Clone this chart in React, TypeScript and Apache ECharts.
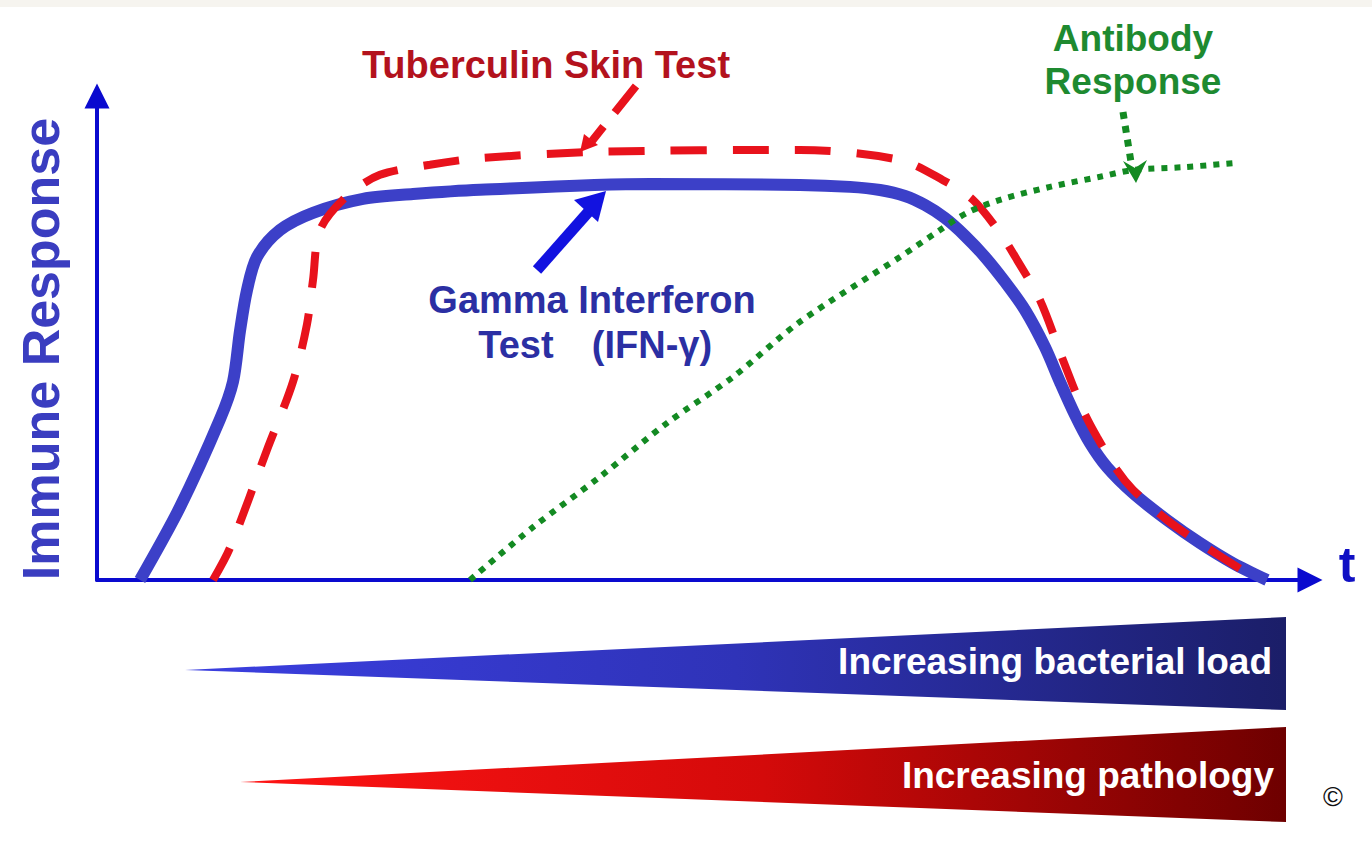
import React, { useEffect, useRef } from "react";
import * as echarts from "echarts";

// Time (arbitrary units) and immune response (% of axis height)
const ifnTime = [4.3, 8.3, 12.3, 13.6, 14.3, 15, 16, 18.3, 21.6, 26.6, 31.6, 38.3, 55.3, 70.3, 75.3, 78.3, 80.8, 82.8, 84.8, 86.8, 88.8, 90.8, 92.8, 94.8, 96.3, 97.8, 99.3, 101, 103.6, 107, 110.3, 113.6, 117];
const ifnResponse = [0, 15.2, 33.5, 41.3, 51.9, 60.4, 67.3, 72.9, 76.5, 79.4, 80.4, 81.3, 82.5, 82.3, 81.9, 81.25, 80, 78.1, 75.4, 71.7, 67.3, 62.1, 56.25, 48.5, 41.25, 34.4, 28.5, 23.5, 18.1, 12.5, 7.7, 3.5, 0];

const tstTime = [11.6, 13.3, 17, 19.6, 21, 21.6, 22.3, 25, 28.3, 33.3, 38.3, 50.3, 70.3, 80.3, 84.6, 87.6, 90.3, 92, 94.3, 96.6, 98.6, 100, 102, 103.6, 107, 110.3, 115.3];
const tstResponse = [0, 6.7, 27.1, 41.3, 53.3, 62.5, 72.9, 80, 84.4, 86.5, 87.9, 89.2, 89.6, 87.5, 83.3, 79.2, 72.3, 66.7, 58.3, 45.8, 35.4, 29.8, 22.9, 18.8, 12.5, 7.7, 1];

const abTime = [37.3, 43.6, 50.3, 57, 63.6, 70.3, 80.3, 84.3, 87, 90.3, 95.3, 100.3, 103.6, 108.6, 114];
const abResponse = [0, 11, 21.5, 32.7, 42.3, 53.8, 67.3, 72.9, 76.5, 79.2, 81.9, 84, 85.4, 86, 86.9];

const seriesNames = ["Gamma Interferon Test (IFN-γ)", "Tuberculin Skin Test", "Antibody Response"];
const yAxisTitle = "Immune Response";
const xAxisTitle = "t";
const bandLabels = ["Increasing bacterial load", "Increasing pathology"];

const pairs = (xs: number[], ys: number[]) => xs.map((x, i) => [x, ys[i]]);

const FONT = "'Liberation Sans', Arial, Helvetica, sans-serif";

export default function App() {
  const ref = useRef<HTMLDivElement>(null);
  useEffect(() => {
    document.body.style.margin = "0";
    const chart = echarts.init(ref.current!, null, { renderer: "svg" });
    const txt = (x: number, y: number, text: string, size: number, fill: string, align = "center", extra: any = {}, weight = "bold") => ({
      type: "text",
      x,
      y,
      z: 20,
      ...extra,
      style: { text, fontSize: size, fontWeight: weight, fontFamily: FONT, fill, align, verticalAlign: "middle" },
    });
    chart.setOption({
      animation: false,
      backgroundColor: "#ffffff",
      grid: { left: 97, top: 96, right: 62, bottom: 262 },
      xAxis: {
        type: "value",
        min: 0,
        max: 121.3,
        axisLine: { show: true, symbol: ["none", "triangle"], symbolSize: [25, 25], lineStyle: { color: "#0a0acf", width: 4 } },
        axisTick: { show: false },
        axisLabel: { show: false },
        splitLine: { show: false },
      },
      yAxis: {
        type: "value",
        min: 0,
        max: 100.83,
        axisLine: { show: true, symbol: ["none", "triangle"], symbolSize: [25, 25], lineStyle: { color: "#0a0acf", width: 4 } },
        axisTick: { show: false },
        axisLabel: { show: false },
        splitLine: { show: false },
      },
      series: [
        {
          name: seriesNames[0],
          type: "line",
          data: pairs(ifnTime, ifnResponse),
          smooth: 0.3,
          symbol: "none",
          clip: false,
          z: 3,
          lineStyle: { color: "#3c40c8", width: 12 },
        },
        {
          name: seriesNames[1],
          type: "line",
          data: pairs(tstTime, tstResponse),
          smooth: 0.3,
          symbol: "none",
          clip: false,
          z: 4,
          lineStyle: { color: "#e8121c", width: 8, type: [36, 26] },
        },
        {
          name: seriesNames[2],
          type: "line",
          data: pairs(abTime, abResponse),
          smooth: 0.3,
          symbol: "none",
          clip: false,
          z: 5,
          lineStyle: { color: "#138a22", width: 6, type: [6, 7] },
        },
      ],
      graphic: [
        { type: "rect", shape: { x: 0, y: 0, width: 1372, height: 7 }, style: { fill: "#f6f4ef" } },
        {
          type: "polygon",
          shape: { points: [[185, 670], [1286, 617], [1286, 710]] },
          style: {
            fill: new echarts.graphic.LinearGradient(0, 0, 1, 0, [
              { offset: 0, color: "#3b3fe0" },
              { offset: 0.5, color: "#2f33b8" },
              { offset: 1, color: "#1b1e68" },
            ]),
          },
        },
        {
          type: "polygon",
          shape: { points: [[240, 782], [1286, 727], [1286, 822]] },
          style: {
            fill: new echarts.graphic.LinearGradient(0, 0, 1, 0, [
              { offset: 0, color: "#ff1414" },
              { offset: 0.5, color: "#d40a0a" },
              { offset: 1, color: "#6e0000" },
            ]),
          },
        },
        txt(1272, 661, bandLabels[0], 37, "#ffffff", "right"),
        txt(1274, 775, bandLabels[1], 37, "#ffffff", "right"),
        txt(1333, 797, "©", 27, "#111111", "center", {}, "normal"),
        txt(41, 349, yAxisTitle, 52, "#3a3dc0", "center", { rotation: Math.PI / 2 }),
        txt(1347, 565, xAxisTitle, 50, "#1010c4"),
        txt(546, 65, "Tuberculin Skin Test", 38, "#b3121d"),
        txt(1133, 38, "Antibody", 37, "#1e8a30"),
        txt(1133, 81, "Response", 37, "#1e8a30"),
        txt(592, 300, "Gamma Interferon", 38, "#2b2fa3"),
        txt(516, 345, "Test", 38, "#2b2fa3"),
        txt(652, 345, "(IFN-γ)", 38, "#2b2fa3"),
        // Tuberculin pointer
        {
          type: "line",
          z: 15,
          shape: { x1: 636, y1: 86, x2: 592, y2: 141 },
          style: { stroke: "#e8121c", lineWidth: 8, lineDash: [34, 18] },
        },
        {
          type: "polygon",
          z: 15,
          shape: { points: [[580, 152], [584, 134], [598, 145]] },
          style: { fill: "#e8121c" },
        },
        // IFN pointer
        {
          type: "line",
          z: 15,
          shape: { x1: 537, y1: 270, x2: 591, y2: 209 },
          style: { stroke: "#1212e0", lineWidth: 11 },
        },
        {
          type: "polygon",
          z: 15,
          shape: { points: [[606, 191], [574, 200], [598, 222]] },
          style: { fill: "#1212e0" },
        },
        // Antibody pointer
        {
          type: "line",
          z: 15,
          shape: { x1: 1123, y1: 112, x2: 1131, y2: 162 },
          style: { stroke: "#138a22", lineWidth: 7, lineDash: [7, 7] },
        },
        {
          type: "polygon",
          z: 15,
          shape: { points: [[1123, 161], [1135, 168], [1147, 160], [1136, 183]] },
          style: { fill: "#138a22" },
        },
      ],
    });
    return () => chart.dispose();
  }, []);
  return <div ref={ref} style={{ width: 1372, height: 842 }} />;
}
